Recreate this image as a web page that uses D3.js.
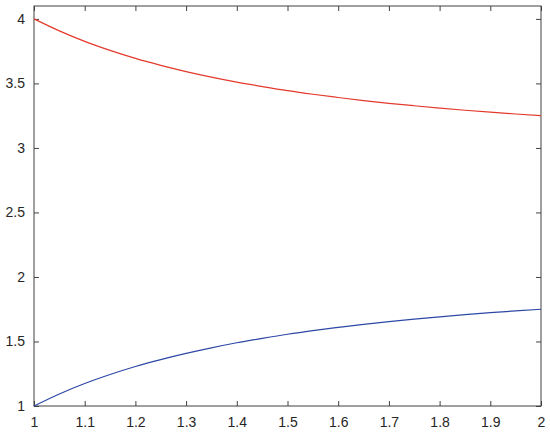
<!DOCTYPE html>
<html>
<head>
<meta charset="utf-8">
<script src="https://cdn.jsdelivr.net/npm/d3@7"></script>
<style>
  body { margin: 0; background: #fff; }
  svg { display: block; font-family: "Liberation Sans", Arial, sans-serif; }
</style>
</head>
<body>
<svg class="chart" width="550" height="435"></svg>
<script>
// values
var xVals = [1.00, 1.05, 1.10, 1.15, 1.20, 1.25, 1.30, 1.35, 1.40, 1.45, 1.50,
             1.55, 1.60, 1.65, 1.70, 1.75, 1.80, 1.85, 1.90, 1.95, 2.00];
var upperVals = [4.000, 3.907, 3.826, 3.756, 3.694, 3.640, 3.592, 3.549, 3.510, 3.476, 3.444,
                 3.416, 3.391, 3.367, 3.346, 3.327, 3.309, 3.292, 3.277, 3.263, 3.250];
var lowerVals = [1.000, 1.093, 1.174, 1.244, 1.306, 1.360, 1.408, 1.451, 1.490, 1.524, 1.556,
                 1.584, 1.609, 1.633, 1.654, 1.673, 1.691, 1.708, 1.723, 1.737, 1.750];
var xTicks = [1, 1.1, 1.2, 1.3, 1.4, 1.5, 1.6, 1.7, 1.8, 1.9, 2];
var yTicks = [1, 1.5, 2, 2.5, 3, 3.5, 4];

var margin = {top: 6, right: 9, bottom: 29, left: 34};
var w = 550 - margin.left - margin.right,
    h = 435 - margin.top - margin.bottom;

var svg = d3.select('.chart')
  .append('g')
    .attr('transform', 'translate(' + margin.left + ',' + margin.top + ')');

var x = d3.scaleLinear().domain([1, 2]).range([0, w]);
var y = d3.scaleLinear().domain([1, 4.1]).range([h, 0]);

var axisColor = '#404040';
var tickLen = 5;

function styleAxis(g, noText) {
  g.select('.domain').remove();
  g.selectAll('.tick line').attr('stroke', axisColor);
  g.selectAll('.tick text')
    .attr('fill', '#262626')
    .style('font-size', '14px');
  if (noText) g.selectAll('.tick text').remove();
}

svg.append('g')
  .attr('transform', 'translate(0,' + h + ')')
  .call(d3.axisBottom(x).tickValues(xTicks).tickSizeInner(-tickLen).tickSizeOuter(0).tickPadding(11)
    .tickFormat(d3.format('')))
  .call(function(g) { styleAxis(g); });

svg.append('g')
  .call(d3.axisTop(x).tickValues(xTicks).tickSizeInner(-tickLen).tickSizeOuter(0))
  .call(function(g) { styleAxis(g, true); });

svg.append('g')
  .call(d3.axisLeft(y).tickValues(yTicks).tickSizeInner(-tickLen).tickSizeOuter(0).tickPadding(9)
    .tickFormat(d3.format('')))
  .call(function(g) { styleAxis(g); });

svg.append('g')
  .attr('transform', 'translate(' + w + ',0)')
  .call(d3.axisRight(y).tickValues(yTicks).tickSizeInner(-tickLen).tickSizeOuter(0))
  .call(function(g) { styleAxis(g, true); });

svg.append('rect')
  .attr('width', w)
  .attr('height', h)
  .attr('fill', 'none')
  .attr('stroke', axisColor)
  .attr('stroke-width', 1);

var line = d3.line()
  .x(function(d) { return x(d[0]); })
  .y(function(d) { return y(d[1]); })
  .curve(d3.curveMonotoneX);

svg.append('path')
  .datum(d3.zip(xVals, upperVals))
  .attr('fill', 'none')
  .attr('stroke', '#e33a2c')
  .attr('stroke-width', 1.2)
  .attr('d', line);

svg.append('path')
  .datum(d3.zip(xVals, lowerVals))
  .attr('fill', 'none')
  .attr('stroke', '#2d48a6')
  .attr('stroke-width', 1.2)
  .attr('d', line);
</script>
</body>
</html>
